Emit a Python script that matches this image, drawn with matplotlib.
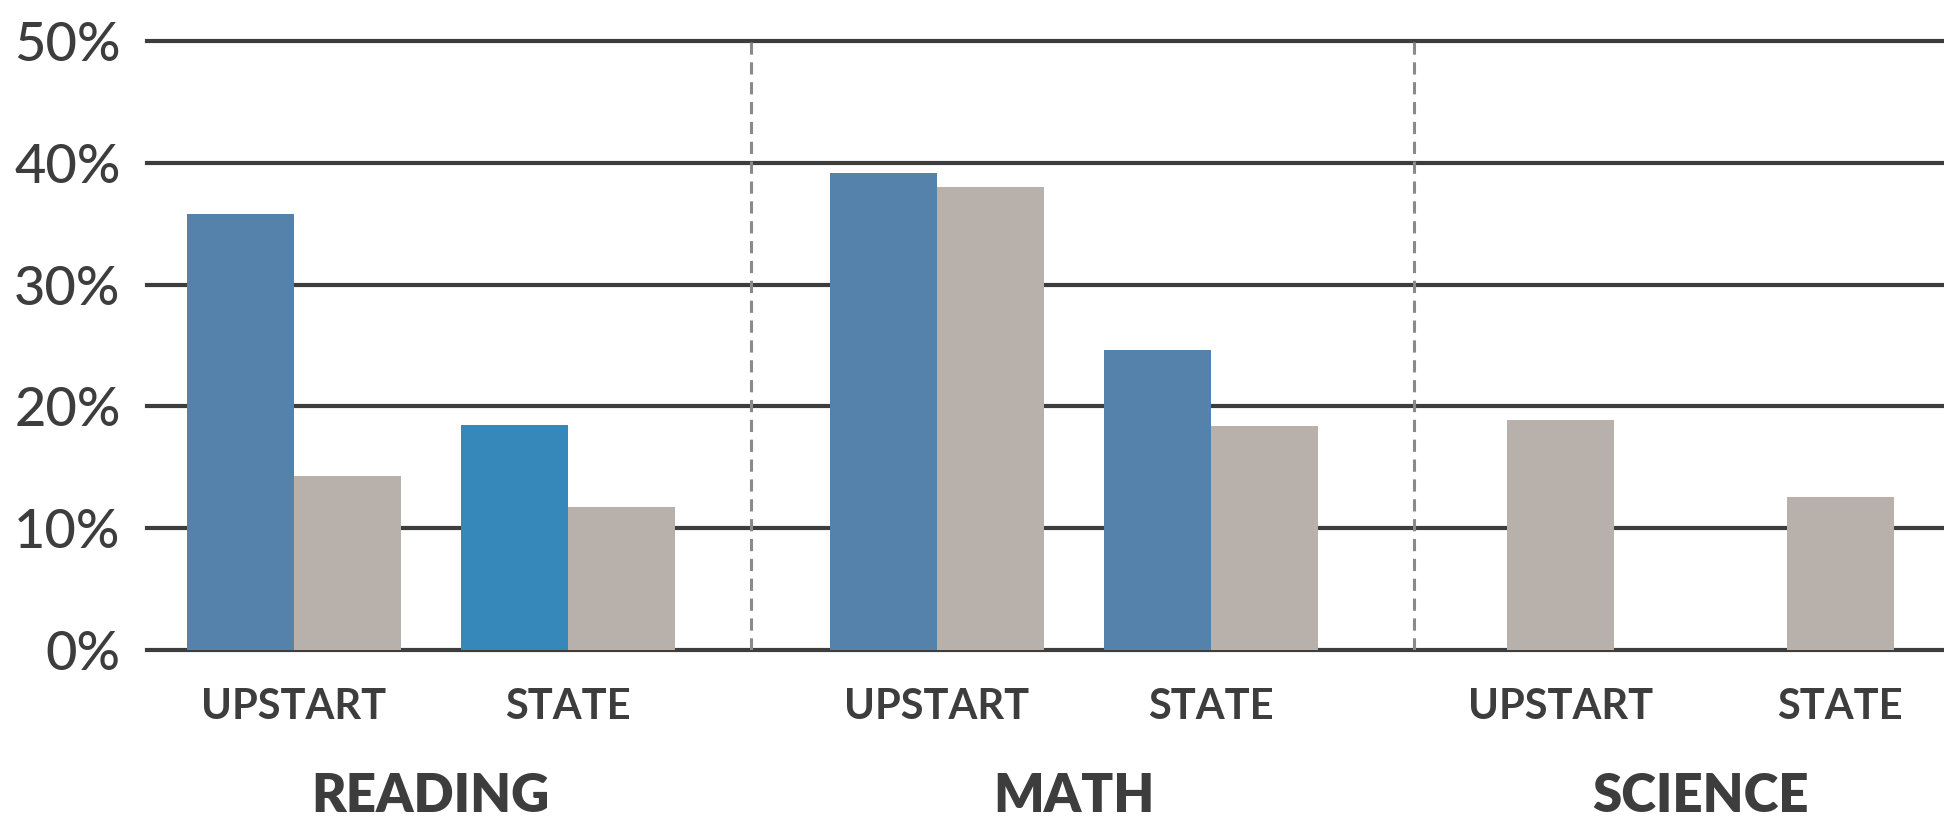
import matplotlib
matplotlib.use('Agg')
import matplotlib.pyplot as plt
import matplotlib.transforms as mtransforms

# Percent values read per bar, in order: Reading upstart/state, Math upstart/state, Science upstart/state
groups = ['READING', 'MATH', 'SCIENCE']
sub_labels = ['UPSTART', 'STATE', 'UPSTART', 'STATE', 'UPSTART', 'STATE']
series_1 = [35.8, 18.5, 39.2, 24.6, None, None]   # blue bars
series_2 = [14.3, 11.7, 38.0, 18.4, 18.9, 12.6]   # gray bars
series_1_colors = ['#5482ab', '#3688ba', '#5482ab', '#5482ab', None, None]
y_ticks = [0, 10, 20, 30, 40, 50]

# Layout (in bar-width units)
slot_x = [0.0, 2.56, 6.01, 8.57, 11.84, 14.45]
divider_x = [4.27, 10.47]
bar_w = 1.0
gray = '#b8b1ab'
ink = '#3d3d3d'

plt.rcParams['font.family'] = ['Lato', 'DejaVu Sans']

fig = plt.figure(figsize=(19.44, 8.21), dpi=100)
ax = fig.add_axes([0.0756, 0.2083, 0.9244, 0.7417])
ax.set_xlim(-1.37, 15.42)
ax.set_ylim(0, 50)

# horizontal gridlines
for t in y_ticks:
    ax.axhline(t, color=ink, lw=3.0, zorder=1, clip_on=False)

# bars: paired where both series exist, single centred bar otherwise
for x, v1, v2, c1 in zip(slot_x, series_1, series_2, series_1_colors):
    if v1 is None:
        ax.bar(x, v2, width=bar_w, color=gray, zorder=3)
    else:
        ax.bar(x - bar_w / 2, v1, width=bar_w, color=c1, zorder=3)
        ax.bar(x + bar_w / 2, v2, width=bar_w, color=gray, zorder=3)

# dashed separators between subjects
for dx in divider_x:
    ax.plot([dx, dx], [0, 50], color='#8a8a8a', lw=2.2,
            linestyle=(0, (4, 2.5)), zorder=2)

ax.set_yticks(y_ticks)
ax.set_yticklabels([f'{t}%' for t in y_ticks], fontsize=39, color=ink,
                   fontweight='medium')
ax.tick_params(axis='y', length=0, pad=19)
ax.set_xticks([])
for s in ax.spines.values():
    s.set_visible(False)

trans = mtransforms.blended_transform_factory(ax.transData, ax.transAxes)
for x, lab in zip(slot_x, sub_labels):
    ax.text(x, -0.0936, lab, transform=trans, ha='center', va='center',
            fontsize=30, fontweight='bold', color=ink)

for i, g in enumerate(groups):
    gx = (slot_x[2 * i] + slot_x[2 * i + 1]) / 2
    ax.text(gx, -0.241, g, transform=trans, ha='center', va='center',
            fontsize=38, fontweight='heavy', color=ink)

fig.savefig('out.png', dpi=100, facecolor='white')
